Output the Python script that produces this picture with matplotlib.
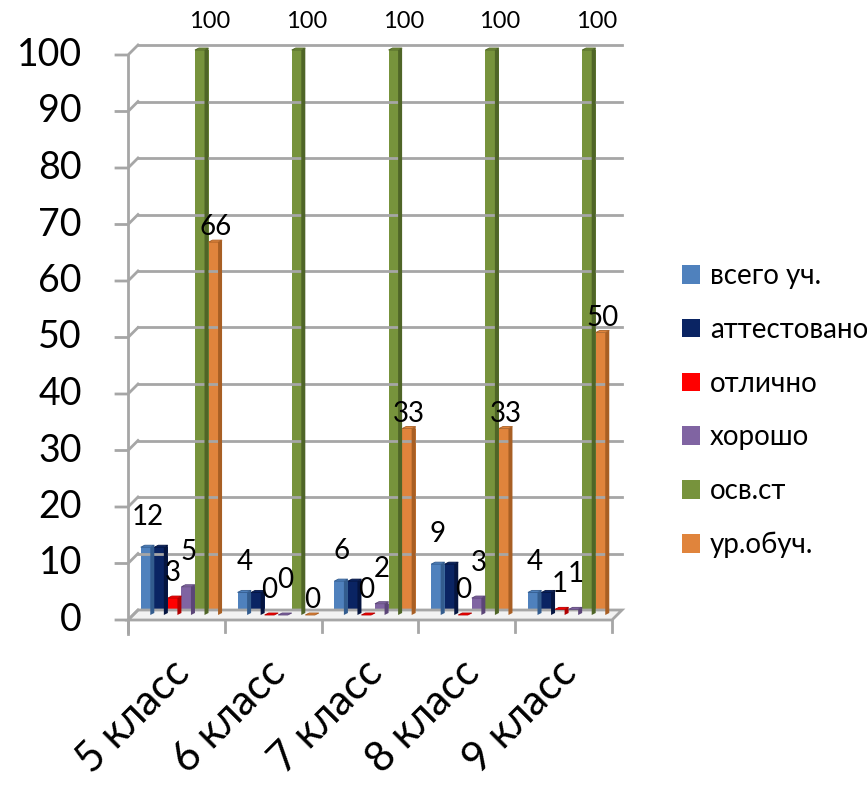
import matplotlib
matplotlib.use("Agg")
import matplotlib.pyplot as plt
from matplotlib.patches import Polygon, Patch
from matplotlib.lines import Line2D
import numpy as np

plt.rcParams['font.family'] = ['Lato', 'DejaVu Sans']

categories = ["5 класс", "6 класс", "7 класс", "8 класс", "9 класс"]
series_names = ["всего уч.", "аттестовано", "отлично", "хорошо", "осв.ст", "ур.обуч."]
vsego = [12, 4, 6, 9, 4]
attest = [12, 4, 6, 9, 4]
otlichno = [3, 0, 0, 0, 1]
horosho = [5, 0, 2, 3, 1]
osv_st = [100, 100, 100, 100, 100]
ur_obuch = [66, 0, 33, 33, 50]
yticks = [0, 10, 20, 30, 40, 50, 60, 70, 80, 90, 100]

series = [vsego, attest, otlichno, horosho, osv_st, ur_obuch]
colors = ["#4F81BD", "#0A2463", "#FF0000", "#8064A2", "#77933C", "#E0843C"]
side_colors = ["#335C8E", "#051540", "#B00000", "#5B4577", "#4F6527", "#A85F24"]
show_label = [True, False, True, True, True, True]
label_dy = [30, 0, 25, 35, 28, 15]   # px above bar top
label_dx = [0, 0, -2, 0, 8, 0]
label_fs = [20, 0, 20, 20, 17, 20]

W, H = 867, 791
fig = plt.figure(figsize=(W / 100, H / 100), dpi=100)
ax = fig.add_axes([133 / W, 1 - 615 / H, (617 - 133) / W, (615 - 50) / H])
ax.set_xlim(-0.5, len(categories) - 0.5)
ax.set_ylim(0, 100)
ax.axis('off')

fig.canvas.draw()
T = ax.transData

def disp(x, y):
    return T.transform((x, y))

grid_c = "#A6A6A6"
D = 5

def line_px(pts, **kw):
    xs = [p[0] for p in pts]
    ys = [p[1] for p in pts]
    fig.add_artist(Line2D(np.array(xs) / W, np.array(ys) / H, transform=fig.transFigure, **kw))

x0 = disp(-0.5, 0)[0]
x1 = disp(len(categories) - 0.5, 0)[0]
yf = disp(0, 0)[1]

floor_poly = np.array([[x0 - D, yf - D], [x1 - D, yf - D],
                       [x1 + D, yf + D], [x0 + D, yf + D]])
fig.add_artist(Polygon(floor_poly / [W, H], closed=True, transform=fig.transFigure,
                       facecolor="#F2F2F2", edgecolor=grid_c, lw=2, zorder=1))

for t in yticks:
    yd = disp(0, t)[1]
    if t > 0:
        line_px([(x0 + D, yd + D), (x1 + D, yd + D)], color=grid_c, lw=2, zorder=1)
    line_px([(x0 - D - 12, yd - D), (x0 - D, yd - D), (x0 + D, yd + D)], color=grid_c, lw=2, zorder=1)
    fig.text((x0 - D - 46) / W, (yd - D) / H, str(t), ha='right', va='center',
             fontsize=27, color="black")
line_px([(x0 - D, disp(0, 100)[1] - D), (x0 - D, yf - D - 14)], color=grid_c, lw=2, zorder=1)
for k in range(len(categories) + 1):
    xs = disp(k - 0.5, 0)[0] - D
    line_px([(xs, yf - D), (xs, yf - D - 12)], color=grid_c, lw=2, zorder=1)

bw = 0.14
n = len(series)
for i, (vals, c, sc) in enumerate(zip(series, colors, side_colors)):
    for j, v in enumerate(vals):
        xc = j + (i - (n - 1) / 2) * bw
        xl, xr = xc - bw / 2, xc + bw / 2
        ax.bar(xc, v, width=bw, color=c, zorder=3, linewidth=0)
        (pl, pb) = disp(xl, 0)
        (pr, pt) = disp(xr, v)
        d = 4
        side = np.array([[pr - d, pb], [pr, pb + 2], [pr, pt + 2], [pr - d, pt]])
        fig.add_artist(Polygon(side / [W, H], closed=True, transform=fig.transFigure,
                               facecolor=sc, edgecolor='none', zorder=4))
        top = np.array([[pl, pt], [pr - d, pt], [pr, pt + 2], [pl + d, pt + 2]])
        fig.add_artist(Polygon(top / [W, H], closed=True, transform=fig.transFigure,
                               facecolor=c, edgecolor=sc, lw=0.6, zorder=4))
        if show_label[i]:
            fig.text(((pl + pr) / 2 + label_dx[i]) / W, (pt + label_dy[i]) / H, str(v),
                     ha='center', va='center', fontsize=label_fs[i], color='black', zorder=6)

for j, cat in enumerate(categories):
    xp = disp(j, 0)[0] - 12
    yp = yf - 38
    fig.text(xp / W, yp / H, cat, rotation=45, ha='right', va='top',
             rotation_mode='anchor', fontsize=30, color='black')

handles = [Patch(facecolor=c, edgecolor='none') for c in colors]
fig.legend(handles, series_names, loc='upper left', bbox_to_anchor=(671 / W, 1 - 252 / H),
           frameon=False, fontsize=20, labelspacing=1.0, handlelength=0.65,
           handleheight=0.65, handletextpad=0.35, borderaxespad=0)

fig.savefig("out.png", dpi=100)
